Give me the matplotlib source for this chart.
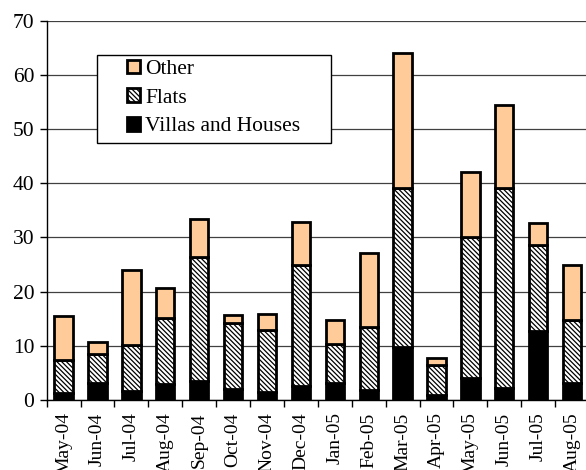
import numpy as np
import matplotlib.pyplot as plt
from matplotlib.patches import Rectangle

plt.rcParams['font.family'] = ['Liberation Serif', 'DejaVu Serif']
plt.rcParams['hatch.linewidth'] = 0.9

# --------------------------- Data ---------------------------
months = ["May-04", "Jun-04", "Jul-04", "Aug-04", "Sep-04", "Oct-04", "Nov-04", "Dec-04",
          "Jan-05", "Feb-05", "Mar-05", "Apr-05", "May-05", "Jun-05", "Jul-05", "Aug-05"]
villas = [1.35, 3.2, 1.7, 3.0, 3.5, 2.0, 1.5, 2.6, 3.1, 1.8, 9.85, 0.9, 4.1, 2.3, 12.7, 3.2]
flats_top = [7.4, 8.4, 10.1, 15.2, 26.4, 14.2, 12.9, 24.9, 10.3, 13.4, 39.2, 6.5, 30.0, 39.2, 28.6, 14.7]
total = [15.5, 10.7, 23.9, 20.6, 33.4, 15.6, 15.8, 32.8, 14.8, 27.1, 64.1, 7.8, 42.1, 54.4, 32.7, 24.9]

villas = np.array(villas)
flats = np.array(flats_top) - villas
other = np.array(total) - np.array(flats_top)

# --------------------------- Plot ---------------------------
W, H = 586, 470
fig = plt.figure(figsize=(W / 100, H / 100), dpi=100)
ax_left, ax_right, ax_top, ax_bottom = 46.7, 589.0, 20.7, 400.0
ax = fig.add_axes([ax_left / W, 1 - ax_bottom / H, (ax_right - ax_left) / W, (ax_bottom - ax_top) / H])

x = np.arange(len(months))
bw = 0.54
lw = 2.0
ax.bar(x, villas, bw, color="black", edgecolor="black", linewidth=lw, zorder=3,
       label="Villas and Houses")
ax.bar(x, flats, bw, bottom=villas, color="white", edgecolor="black", hatch="\\" * 7,
       linewidth=lw, zorder=3, label="Flats")
ax.bar(x, other, bw, bottom=villas + flats, color="#FFCC99", edgecolor="black",
       linewidth=lw, zorder=3, label="Other")

ax.set_xlim(-0.5, len(months) - 0.5)
ax.set_ylim(0, 70)
ax.set_yticks(np.arange(0, 71, 10))
ax.yaxis.grid(True, color="#404040", linewidth=0.9, zorder=0)
ax.set_axisbelow(True)

ax.set_xticks(x)
ax.set_xticklabels(months, rotation=90, fontsize=14)
ax.set_xticks(np.arange(-0.5, len(months), 1.0), minor=True)
ax.tick_params(axis="x", which="major", length=0, pad=9)
ax.tick_params(axis="x", which="minor", length=5, width=1, direction="out")
ax.tick_params(axis="y", length=5, width=1, direction="out", labelsize=15.5, pad=4)

for s in ["top", "right"]:
    ax.spines[s].set_visible(False)
for s in ["left", "bottom"]:
    ax.spines[s].set_linewidth(1)

# legend with a separately drawn frame
handles, labels = ax.get_legend_handles_labels()
leg = ax.legend(handles[::-1], labels[::-1], loc="upper left", frameon=False,
                bbox_to_anchor=((127 - ax_left) / (ax_right - ax_left),
                                (ax_bottom - 59.5) / (ax_bottom - ax_top)),
                borderpad=0, borderaxespad=0, fontsize=15.5, handlelength=0.6,
                handleheight=0.6, handletextpad=0.25, labelspacing=0.43)
frame = Rectangle(((97.3 - ax_left) / (ax_right - ax_left), (ax_bottom - 142.7) / (ax_bottom - ax_top)),
                  (330.7 - 97.3) / (ax_right - ax_left), (142.7 - 55) / (ax_bottom - ax_top),
                  transform=ax.transAxes, facecolor="white", edgecolor="black",
                  linewidth=1, zorder=4)
ax.add_patch(frame)
leg.set_zorder(5)

fig.savefig("out.png", dpi=100)
